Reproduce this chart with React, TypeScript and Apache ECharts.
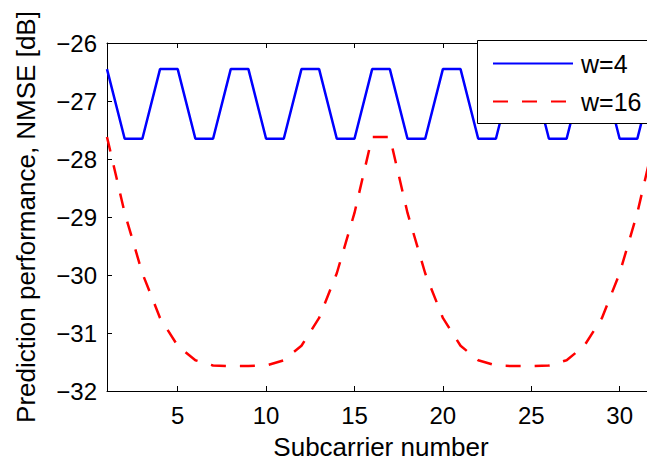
import React, { useEffect, useRef } from "react";
import * as echarts from "echarts";

// Subcarrier indices 1..32
const subcarriers = [
  1, 2, 3, 4, 5, 6, 7, 8, 9, 10, 11, 12, 13, 14, 15, 16,
  17, 18, 19, 20, 21, 22, 23, 24, 25, 26, 27, 28, 29, 30, 31, 32,
];

// NMSE [dB] for window w=4
const nmseW4 = [
  -26.45, -27.65, -27.65, -26.45, -26.45, -27.65, -27.65, -26.45,
  -26.45, -27.65, -27.65, -26.45, -26.45, -27.65, -27.65, -26.45,
  -26.45, -27.65, -27.65, -26.45, -26.45, -27.65, -27.65, -26.45,
  -26.45, -27.65, -27.65, -26.45, -26.45, -27.65, -27.65, -26.45,
];

// NMSE [dB] for window w=16
const nmseW16 = [
  -27.62, -28.93, -29.97, -30.74, -31.22, -31.47, -31.56, -31.57,
  -31.57, -31.56, -31.47, -31.22, -30.74, -29.97, -28.93, -27.62,
  -27.62, -28.93, -29.97, -30.74, -31.22, -31.47, -31.56, -31.57,
  -31.57, -31.56, -31.47, -31.22, -30.74, -29.97, -28.93, -27.62,
];

const xTicks = [5, 10, 15, 20, 25, 30];
const yTicks = [-32, -31, -30, -29, -28, -27, -26];

const seriesNames = ["w=4", "w=16"];

const FONT = "'Liberation Sans', Arial, Helvetica, sans-serif";

export default function App() {
  const ref = useRef<HTMLDivElement>(null);

  useEffect(() => {
    if (!ref.current) return;
    const chart = echarts.init(ref.current, undefined, { renderer: "svg" });

    const axisLine = { show: true, lineStyle: { color: "#000", width: 1 } };
    const tickStyle = { color: "#000", width: 1 };
    const minus = (v: number) => String(v).replace("-", "\u2212");

    chart.setOption({
      animation: false,
      backgroundColor: "#fff",
      grid: { left: 107, right: 25, top: 43, bottom: 69, containLabel: false },
      xAxis: [
        {
          type: "value",
          min: 1,
          max: 32,
          position: "bottom",
          name: "Subcarrier number",
          nameLocation: "middle",
          nameGap: 43,
          nameTextStyle: { fontSize: 26, color: "#000", fontFamily: FONT },
          axisLine,
          axisTick: { show: true, inside: true, length: 5, lineStyle: tickStyle, customValues: xTicks },
          axisLabel: { show: true, fontSize: 24, color: "#000", fontFamily: FONT, margin: 12, customValues: xTicks },
          splitLine: { show: false },
        },
        {
          type: "value",
          min: 1,
          max: 32,
          position: "top",
          axisLine,
          axisTick: { show: true, inside: true, length: 5, lineStyle: tickStyle, customValues: xTicks },
          axisLabel: { show: false },
          splitLine: { show: false },
        },
      ],
      yAxis: [
        {
          type: "value",
          min: -32,
          max: -26,
          interval: 1,
          position: "left",
          name: "Prediction performance, NMSE [dB]",
          nameLocation: "middle",
          nameGap: 68,
          nameTextStyle: { fontSize: 26, color: "#000", fontFamily: FONT },
          axisLine,
          axisTick: { show: true, inside: true, length: 5, lineStyle: tickStyle, customValues: yTicks },
          axisLabel: {
            show: true,
            fontSize: 24,
            color: "#000",
            fontFamily: FONT,
            margin: 10,
            customValues: yTicks,
            formatter: (v: number) => minus(v),
          },
          splitLine: { show: false },
        },
        {
          type: "value",
          min: -32,
          max: -26,
          interval: 1,
          position: "right",
          axisLine,
          axisTick: { show: true, inside: true, length: 5, lineStyle: tickStyle },
          axisLabel: { show: false },
          splitLine: { show: false },
        },
      ],
      // legend frame, drawn above the curves and under the legend entries
      graphic: {
        elements: [
          {
            type: "rect",
            left: 477,
            top: 40,
            z: 10,
            zlevel: 0,
            shape: { width: 190, height: 83 },
            style: { fill: "#fff", stroke: "#000", lineWidth: 1 },
          },
        ],
      },
      legend: {
        data: seriesNames,
        orient: "vertical",
        left: 477,
        top: 40,
        itemWidth: 80,
        itemHeight: 24,
        itemGap: 13,
        padding: [11, 10, 11, 15],
        z: 20,
        // legend keys show only the line sample, no marker
        itemStyle: { opacity: 0 },
        textStyle: { fontSize: 25, color: "#000", fontFamily: FONT, padding: [0, 0, 0, 3] },
      },
      series: [
        {
          name: seriesNames[0],
          type: "line",
          z: 2,
          xAxisIndex: 0,
          yAxisIndex: 0,
          data: subcarriers.map((x, i) => [x, nmseW4[i]]),
          symbol: "none",
          lineStyle: { color: "#0000ff", width: 2.5, type: "solid" },
          itemStyle: { color: "#0000ff" },
        },
        {
          name: seriesNames[1],
          type: "line",
          z: 2,
          xAxisIndex: 0,
          yAxisIndex: 0,
          data: subcarriers.map((x, i) => [x, nmseW16[i]]),
          symbol: "none",
          lineStyle: { color: "#ff0000", width: 2.5, type: [15, 14] },
          itemStyle: { color: "#ff0000" },
        },
      ],
    });

    return () => chart.dispose();
  }, []);

  return (
    <div
      ref={ref}
      style={{ position: "fixed", left: 0, top: 0, width: 680, height: 465, background: "#fff" }}
    />
  );
}
